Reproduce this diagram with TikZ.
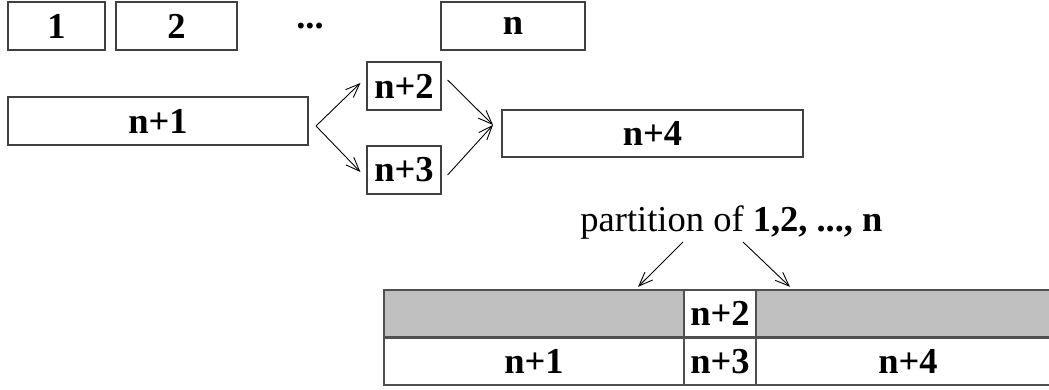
\documentclass[tikz,border=0pt]{standalone}
\usepackage{fontspec}
\setmainfont{Liberation Serif}
\usetikzlibrary{arrows.meta}
\definecolor{boxline}{HTML}{404040}
\definecolor{tabline}{HTML}{505050}
\definecolor{cellgray}{HTML}{C0C0C0}
\tikzset{
  lbl/.style={font=\fontsize{36.5}{40}\selectfont\bfseries},
  box/.style={draw=boxline, line width=1.2pt, inner sep=0pt, minimum height=48pt, lbl},
  cell/.style={draw=tabline, line width=1.8pt, inner sep=0pt, minimum height=47.5pt, lbl},
  arr/.style={-{Straight Barb[length=14pt,width=11pt,line width=0.9pt]}, line width=0.9pt},
}
\begin{document}
\begin{tikzpicture}[x=1pt,y=-1pt]
\useasboundingbox (0,0) rectangle (1049,390);
\clip (0,0) rectangle (1049,390);
% top row
\node[box, minimum width=97pt]  (b1) at (56.5,26) {1};
\node[box, minimum width=121pt] (b2) at (176.5,26) {2};
\node[lbl, anchor=base, inner sep=0pt] (dots) at (310,29) {...};
\node[box, minimum width=144pt] (bn) at (513,26) {n};
% middle
\node[box, minimum width=300pt] (n1) at (158,121) {n+1};
\node[box, minimum width=74pt]  (n2) at (404,86) {n+2};
\node[box, minimum width=74pt]  (n3) at (404,170) {n+3};
\node[box, minimum width=301pt, minimum height=47pt] (n4) at (652.5,133.5) {n+4};
\coordinate (split) at (316,126);
\coordinate (join) at (493,125);
\draw[arr] (split) -- ([xshift=-6pt,yshift=3pt]n2.west);
\draw[arr] (split) -- ([xshift=-6pt,yshift=-2pt]n3.west);
\draw[arr] ([xshift=6pt,yshift=6pt]n2.east) -- (join);
\draw[arr] ([xshift=6pt,yshift=-5pt]n3.east) -- (join);
% partition text
\node[anchor=base, font=\fontsize{36.5}{40}\selectfont] (part) at (731.5,231) {partition of \textbf{1,2, ..., n}};
% table
\node[cell, fill=cellgray, minimum width=300pt] (tl) at (534,313.5) {};
\node[cell, fill=white, minimum width=72pt]     (tm) at (720,313.5) {n+2};
\node[cell, fill=cellgray, minimum width=304pt] (tr) at (908,313.5) {};
\node[cell, fill=white, minimum width=300pt] (bl) at (534,361.5) {n+1};
\node[cell, fill=white, minimum width=72pt]  (bm) at (720,361.5) {n+3};
\node[cell, fill=white, minimum width=304pt] (br) at (908,361.5) {n+4};
\draw[arr] ([xshift=-48.5pt,yshift=-11pt]part.base) -- ([xshift=104pt,yshift=2pt]tl.north);
\draw[arr] ([xshift=11.5pt,yshift=-11pt]part.base) -- ([xshift=-118pt,yshift=2pt]tr.north);
\end{tikzpicture}
\end{document}
